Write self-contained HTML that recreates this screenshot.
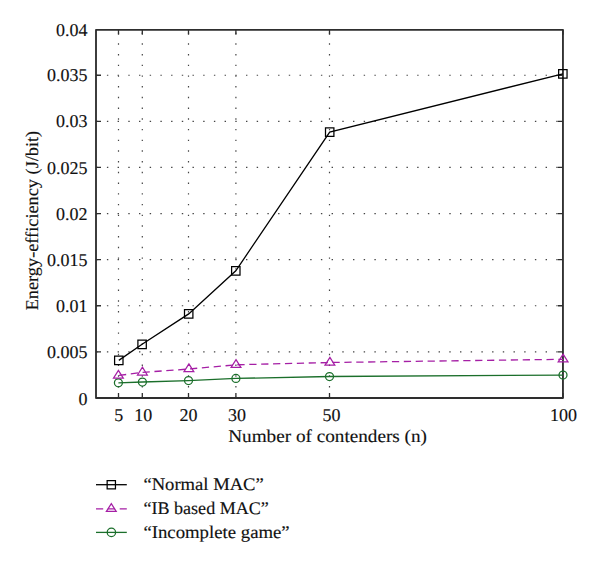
<!DOCTYPE html>
<html><head><meta charset="utf-8"><style>
html,body{margin:0;padding:0;background:#fff;}
svg{display:block;}
text{text-rendering:geometricPrecision;font-family:"Liberation Serif",serif;font-size:18px;fill:#111;stroke:#111;stroke-width:0.15px;}
</style></head><body>
<svg width="600" height="567" viewBox="0 0 600 567">
<rect width="600" height="567" fill="#fff"/>
<line x1="118.5" y1="397.4" x2="118.5" y2="29.85" stroke="#444" stroke-width="1.2" stroke-dasharray="1.4 9.31" stroke-dashoffset="0.7"/>
<line x1="142.3" y1="397.4" x2="142.3" y2="29.85" stroke="#444" stroke-width="1.2" stroke-dasharray="1.4 9.31" stroke-dashoffset="0.7"/>
<line x1="188.5" y1="397.4" x2="188.5" y2="29.85" stroke="#444" stroke-width="1.2" stroke-dasharray="1.4 9.31" stroke-dashoffset="0.7"/>
<line x1="235.9" y1="397.4" x2="235.9" y2="29.85" stroke="#444" stroke-width="1.2" stroke-dasharray="1.4 9.31" stroke-dashoffset="0.7"/>
<line x1="329.5" y1="397.4" x2="329.5" y2="29.85" stroke="#444" stroke-width="1.2" stroke-dasharray="1.4 9.31" stroke-dashoffset="0.7"/>
<line x1="95.9" y1="351.85" x2="562.95" y2="351.85" stroke="#444" stroke-width="1.2" stroke-dasharray="1.4 9.3" stroke-dashoffset="-0.3"/>
<line x1="95.9" y1="305.75" x2="562.95" y2="305.75" stroke="#444" stroke-width="1.2" stroke-dasharray="1.4 9.3" stroke-dashoffset="-0.3"/>
<line x1="95.9" y1="259.65" x2="562.95" y2="259.65" stroke="#444" stroke-width="1.2" stroke-dasharray="1.4 9.3" stroke-dashoffset="-0.3"/>
<line x1="95.9" y1="213.55" x2="562.95" y2="213.55" stroke="#444" stroke-width="1.2" stroke-dasharray="1.4 9.3" stroke-dashoffset="-0.3"/>
<line x1="95.9" y1="167.45" x2="562.95" y2="167.45" stroke="#444" stroke-width="1.2" stroke-dasharray="1.4 9.3" stroke-dashoffset="-0.3"/>
<line x1="95.9" y1="121.35" x2="562.95" y2="121.35" stroke="#444" stroke-width="1.2" stroke-dasharray="1.4 9.3" stroke-dashoffset="-0.3"/>
<line x1="95.9" y1="75.25" x2="562.95" y2="75.25" stroke="#444" stroke-width="1.2" stroke-dasharray="1.4 9.3" stroke-dashoffset="-0.3"/>
<path d="M118.5 398.0V393.0M118.5 29.85V34.85M142.3 398.0V393.0M142.3 29.85V34.85M188.5 398.0V393.0M188.5 29.85V34.85M235.9 398.0V393.0M235.9 29.85V34.85M329.5 398.0V393.0M329.5 29.85V34.85M563.0 398.0V393.0M563.0 29.85V34.85M96.0 351.85H101.0M562.95 351.85H557.95M96.0 305.75H101.0M562.95 305.75H557.95M96.0 259.65H101.0M562.95 259.65H557.95M96.0 213.55H101.0M562.95 213.55H557.95M96.0 167.45H101.0M562.95 167.45H557.95M96.0 121.35H101.0M562.95 121.35H557.95M96.0 75.25H101.0M562.95 75.25H557.95" stroke="#2e2e2e" stroke-width="1.3" fill="none"/>
<rect x="96.0" y="29.85" width="466.95" height="368.15" fill="none" stroke="#2e2e2e" stroke-width="1.85" stroke-linejoin="round"/>
<polyline points="118.4,382.8 142.4,382.0 188.5,380.6 235.9,378.4 329.5,376.5 563.0,375.1" fill="none" stroke="#1b6f2b" stroke-width="1.3"/>
<path d="M114.40 382.8a4 4 0 1 0 8 0a4 4 0 1 0 -8 0M138.40 382.0a4 4 0 1 0 8 0a4 4 0 1 0 -8 0M184.50 380.6a4 4 0 1 0 8 0a4 4 0 1 0 -8 0M231.90 378.4a4 4 0 1 0 8 0a4 4 0 1 0 -8 0M325.50 376.5a4 4 0 1 0 8 0a4 4 0 1 0 -8 0M559.00 375.1a4 4 0 1 0 8 0a4 4 0 1 0 -8 0" fill="none" stroke="#1b6f2b" stroke-width="1.25"/>
<polyline points="118.4,375.5 142.4,372.4 188.9,369.0 236.0,364.8 329.9,362.5 563.1,359.3" fill="none" stroke="#a51fa5" stroke-width="1.3" stroke-dasharray="7.25 4.64" stroke-dashoffset="-0.6"/>
<path d="M118.40 370.30L123.30 378.10L113.50 378.10zM142.40 367.20L147.30 375.00L137.50 375.00zM188.90 363.80L193.80 371.60L184.00 371.60zM236.00 359.60L240.90 367.40L231.10 367.40zM329.90 357.30L334.80 365.10L325.00 365.10zM563.10 354.10L568.00 361.90L558.20 361.90z" fill="none" stroke="#a51fa5" stroke-width="1.25" stroke-linejoin="miter"/>
<polyline points="118.8,360.4 142.1,344.3 188.7,313.9 235.8,270.8 329.7,132.1 562.85,73.8" fill="none" stroke="#000" stroke-width="1.3"/>
<path d="M114.60 356.20h8.4v8.4h-8.4zM137.90 340.10h8.4v8.4h-8.4zM184.50 309.70h8.4v8.4h-8.4zM231.60 266.60h8.4v8.4h-8.4zM325.50 127.90h8.4v8.4h-8.4zM558.65 69.60h8.4v8.4h-8.4z" fill="none" stroke="#000" stroke-width="1.25"/>
<line x1="96.0" y1="484.7" x2="126.8" y2="484.7" stroke="#000" stroke-width="1.3"/>
<path d="M107.15 480.55h8.3v8.3h-8.3z" fill="none" stroke="#000" stroke-width="1.25"/>
<line x1="96.0" y1="508.8" x2="126.8" y2="508.8" stroke="#a51fa5" stroke-width="1.3" stroke-dasharray="7.2 4.65"/>
<path d="M111.30 503.60L116.20 511.40L106.40 511.40z" fill="none" stroke="#a51fa5" stroke-width="1.25"/>
<line x1="96.0" y1="532.4" x2="126.8" y2="532.4" stroke="#1b6f2b" stroke-width="1.3"/>
<circle cx="111.39999999999999" cy="532.4" r="4.2" fill="none" stroke="#1b6f2b" stroke-width="1.25"/>
<text x="87.6" y="404.90" text-anchor="end">0</text>
<text x="87.6" y="358.00" text-anchor="end">0.005</text>
<text x="87.6" y="312.25" text-anchor="end">0.01</text>
<text x="87.6" y="266.15" text-anchor="end">0.015</text>
<text x="87.6" y="220.05" text-anchor="end">0.02</text>
<text x="87.6" y="173.80" text-anchor="end">0.025</text>
<text x="87.6" y="126.90" text-anchor="end">0.03</text>
<text x="87.6" y="80.90" text-anchor="end">0.035</text>
<text x="87.6" y="36.00" text-anchor="end">0.04</text>
<text x="118.8" y="421.3" text-anchor="middle">5</text>
<text x="143.3" y="421.3" text-anchor="middle">10</text>
<text x="188.45" y="421.3" text-anchor="middle">20</text>
<text x="237.05" y="421.3" text-anchor="middle">30</text>
<text x="331.45" y="421.3" text-anchor="middle">50</text>
<text x="563.45" y="421.3" text-anchor="middle">100</text>
<text x="228.2" y="442.3" textLength="198.8" lengthAdjust="spacingAndGlyphs">Number of contenders (n)</text>
<text transform="translate(37.8 310.3) rotate(-90)" x="0" y="0" textLength="179.5" lengthAdjust="spacingAndGlyphs">Energy-efficiency (J/bit)</text>
<text x="143.4" y="490.0" textLength="120.4" lengthAdjust="spacingAndGlyphs" style="font-size:17.8px">“Normal MAC”</text>
<text x="143.4" y="514.4" textLength="125.5" lengthAdjust="spacingAndGlyphs" style="font-size:17.8px">“IB based MAC”</text>
<text x="143.4" y="537.8" textLength="146.3" lengthAdjust="spacingAndGlyphs" style="font-size:17.8px">“Incomplete game”</text>
</svg>
</body></html>
